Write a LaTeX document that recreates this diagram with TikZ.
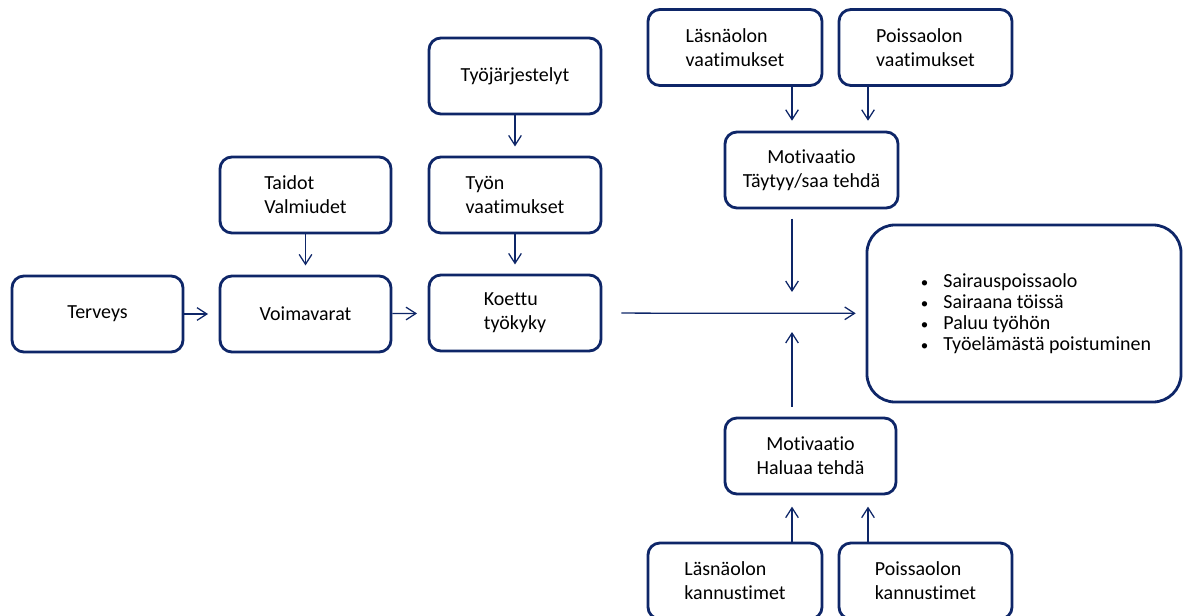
\documentclass[tikz,border=0pt]{standalone}
\usepackage{fontspec}
\setmainfont{Carlito}[Ligatures={NoCommon}]
\usetikzlibrary{arrows.meta}
\definecolor{tummansininen}{RGB}{14,38,104}
\tikzset{
  laatikko/.style={draw=tummansininen, line width=2pt, rounded corners=8.5pt, fill=white,
    minimum width=4.275cm, minimum height=1.9cm, align=left, font=\fontsize{14.2}{17}\selectfont},
  tulosbox/.style={laatikko, rounded corners=20pt, minimum width=7.85cm, minimum height=4.425cm,
    font=\fontsize{14.2}{15}\selectfont},
  nuoli/.style={draw=tummansininen, line width=0.9pt, -{Straight Barb[length=7pt,width=9pt]}}
}
\newcommand{\luetelma}[1]{\hspace*{17pt}\makebox[16pt][l]{\scalebox{0.75}{\textbullet}}#1}
\begin{document}
\begin{tikzpicture}[x=0.025cm, y=-0.025cm]
  \useasboundingbox (0,0) rectangle (1183,616);
  \clip (0,0) rectangle (1183,616);
  \node[laatikko] (terveys) at (97.5,314) {Terveys};
  \node[laatikko] (voima) at (305.5,314) {Voimavarat};
  \node[laatikko, minimum width=4.3cm] (koettu) at (515,313) {Koettu\\työkyky};
  \node[laatikko] (taidot) at (305.5,195) {Taidot\\Valmiudet};
  \node[laatikko, minimum width=4.3cm] (tyon) at (515,195) {Työn\\vaatimukset};
  \node[laatikko, minimum width=4.3cm] (jarj) at (515,76) {Työjärjestelyt};
  \node[laatikko, minimum width=4.35cm] (lvaat) at (735,47.5) {Läsnäolon\\vaatimukset};
  \node[laatikko, minimum width=4.325cm] (pvaat) at (925.5,47.5) {Poissaolon\\vaatimukset};
  \node[laatikko, minimum width=4.325cm, align=center] (mtay) at (811.5,170) {Motivaatio\\Täytyy/saa tehdä};
  \node[laatikko, minimum width=4.275cm, align=center] (mhal) at (810.5,456) {Motivaatio\\Haluaa tehdä};
  \node[laatikko, minimum width=4.35cm] (lkan) at (735,581) {Läsnäolon\\kannustimet};
  \node[laatikko, minimum width=4.325cm] (pkan) at (925.5,581) {Poissaolon\\kannustimet};
  \node[tulosbox] (tulos) at (1024,313.5) {\luetelma{Sairauspoissaolo}\\\luetelma{Sairaana töissä}\\\luetelma{Paluu työhön}\\\luetelma{Työelämästä poistuminen}};

  \coordinate (vasen) at (792,0);
  \coordinate (oikea) at (868,0);
  \coordinate (ylakarki) at (792,292);
  \coordinate (alakarki) at (792,332);

  \draw[nuoli, shorten >=7.5pt] (terveys) -- (voima);
  \draw[nuoli, shorten >=7.5pt] (voima) -- (koettu);
  \draw[nuoli, shorten <=13.5pt, shorten >=7pt] (koettu) -- (tulos);
  \draw[nuoli, shorten >=6.5pt] (taidot) -- (voima);
  \draw[nuoli, shorten >=6.5pt] (tyon) -- (koettu);
  \draw[nuoli, shorten >=6.5pt] (jarj) -- (tyon);
  \draw[nuoli, shorten >=7pt] (lvaat.south -| vasen) -- (mtay.north -| vasen);
  \draw[nuoli, shorten >=7pt] (pvaat.south -| oikea) -- (mtay.north -| oikea);
  \draw[nuoli, shorten <=6.5pt] (mtay.south -| vasen) -- (ylakarki);
  \draw[nuoli, shorten <=7pt] (mhal.north -| vasen) -- (alakarki);
  \draw[nuoli, shorten >=8pt] (lkan.north -| vasen) -- (mhal.south -| vasen);
  \draw[nuoli, shorten >=8pt] (pkan.north -| oikea) -- (mhal.south -| oikea);
\end{tikzpicture}
\end{document}
